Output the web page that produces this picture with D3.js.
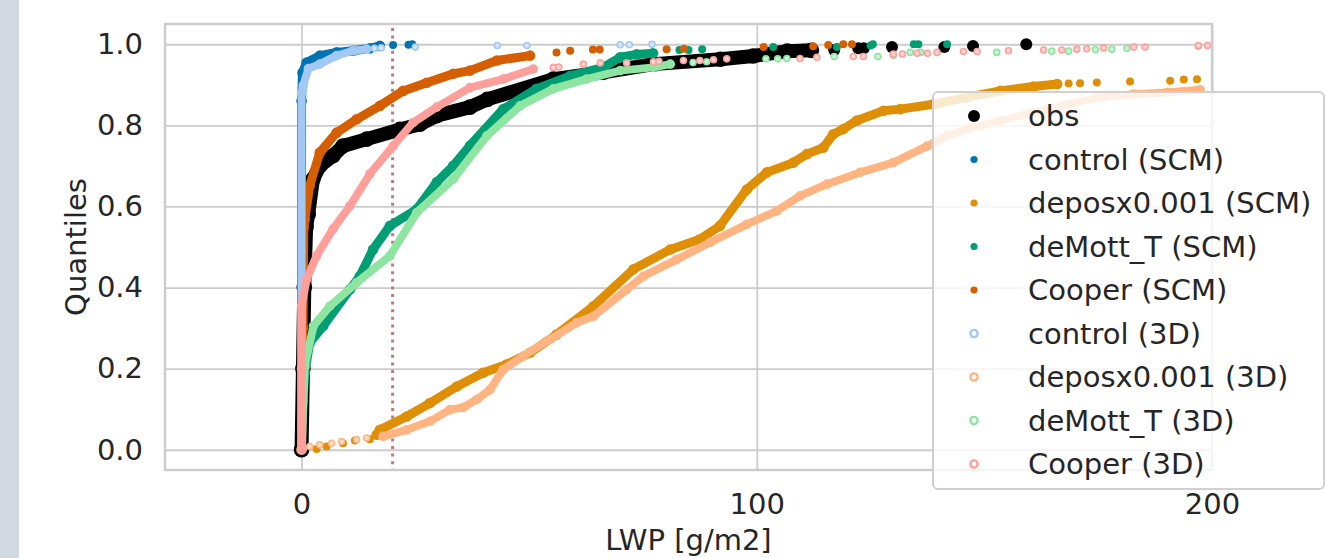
<!DOCTYPE html>
<html>
<head>
<meta charset="utf-8">
<script src="https://cdn.jsdelivr.net/npm/d3@7"></script>
<style>
  body { margin: 0; background: #fff; }
  svg { display: block; font-family: "DejaVu Sans", sans-serif; }
</style>
</head>
<body>
<div id="grafico"></div>
<script>
// DADOS ----------------------------------------------------------------------
// cada par: [LWP em g/m2, quantil]
// "curva" = trecho denso (pontos colados), "cauda" = pontos soltos
const obs_curva = [[0,0],[0.3,0.2],[0.6,0.4],[1,0.55],[1.45,0.58],[2.5,0.667],[4,0.7],[6.9,0.725],[9.1,0.749],[14.3,0.766],[21.6,0.79],[26,0.803],[29.7,0.824],[37,0.845],[40.8,0.864],[55.3,0.914],[66.3,0.931],[77.3,0.951],[92,0.963],[99.2,0.971],[106.7,0.983],[112,0.985]];
const obs_cauda = [[117,0.986],[122.3,0.99],[123.5,0.99],[129.7,0.993],[141.2,0.993],[147.5,0.996],[159.2,1.0]];

const controle_scm_curva = [[0,0],[0,0.86],[0.2,0.93],[1.1,0.955],[4,0.972],[7.7,0.98],[11.3,0.984],[15,0.99],[17.2,0.996]];
const controle_scm_cauda = [[20.1,0.998],[23.5,0.999],[24.3,1.0]];

const depos_scm_curva = [[16.5,0.037],[17.2,0.049],[23.1,0.082],[28.2,0.115],[34.1,0.156],[39.9,0.19],[45,0.21],[50.2,0.239],[56,0.284],[64.1,0.354],[72.9,0.445],[81,0.494],[87.5,0.519],[91.9,0.552],[97.8,0.642],[102.2,0.684],[108,0.708],[111,0.729],[114.6,0.745],[116.8,0.778],[119,0.791],[122,0.812],[127.8,0.836],[131.5,0.84],[138.8,0.852],[146,0.869],[153.5,0.885],[160.8,0.896],[166,0.902]];
const depos_scm_cauda = [[3.3,0.002],[5.5,0.008],[9.1,0.016],[11.7,0.023],[15,0.026],[168.5,0.903],[171,0.904],[174.7,0.906],[182,0.908],[190.8,0.91],[193.8,0.913],[196.7,0.914]];

const demott_scm_curva = [[0,0],[0.3,0.12],[0.7,0.19],[1.8,0.264],[4.75,0.305],[10.6,0.395],[12.8,0.428],[15.7,0.494],[19.4,0.552],[25.3,0.593],[29.7,0.66],[33.3,0.7],[37,0.75],[44.3,0.84],[51.6,0.89],[59,0.922],[66.3,0.943],[70,0.968],[73.6,0.975],[77.2,0.978]];
const demott_scm_cauda = [[83,0.986],[85,0.986],[88,0.988],[103.6,0.993],[117.6,0.993],[125,0.997],[125.5,1.0],[134.5,1.0],[135.5,1.0],[141.8,1.0]];

const cooper_scm_curva = [[0,0],[0.3,0.3],[0.5,0.55],[0.7,0.568],[1.8,0.651],[4,0.733],[7.7,0.782],[12.1,0.815],[17.2,0.848],[22.3,0.885],[27.5,0.905],[33.3,0.927],[37,0.935],[42.9,0.96],[50.2,0.972]];
const cooper_scm_cauda = [[56,0.98],[59,0.984],[64,0.987],[65.5,0.987],[80.2,0.988],[84,0.989],[101.5,0.993],[112.4,0.995],[115.7,0.998],[119,1.0],[120.9,1.0]];

const controle_3d_curva = [[0,0],[0,0.88],[0.35,0.898],[1.5,0.94],[4,0.951],[7.7,0.972],[11.3,0.984],[14.3,0.988]];
const controle_3d_cauda = [[16,0.99],[17.5,0.991],[25,0.993],[43,0.997],[49.5,0.997],[70,0.999],[72,0.999],[77,1.0]];

const depos_3d_curva = [[17.9,0.033],[23.1,0.049],[28.2,0.07],[32.6,0.099],[35.5,0.104],[38.5,0.124],[41.4,0.148],[44.3,0.198],[48.7,0.231],[54.6,0.272],[60.4,0.313],[64.1,0.329],[71.4,0.395],[75.1,0.428],[82.4,0.469],[89.7,0.511],[97.8,0.556],[104.4,0.589],[109.5,0.626],[115.4,0.655],[122.7,0.684],[130,0.708],[137.4,0.749],[141.8,0.774],[146.2,0.791],[153.5,0.811],[160.8,0.832],[168.1,0.852],[175.4,0.869],[182.8,0.877],[190.1,0.881],[197.4,0.888]];
const depos_3d_cauda = [[0.35,0.004],[1.8,0.008],[4,0.012],[6.6,0.016],[8.8,0.02],[12.1,0.025],[14.3,0.029]];

const demott_3d_curva = [[0,0],[0.7,0.206],[2.6,0.305],[6.2,0.354],[12.1,0.412],[19.4,0.478],[25.3,0.585],[33.3,0.667],[40.7,0.774],[48,0.848],[55.3,0.89],[62.6,0.914],[70,0.935],[77.3,0.943],[81,0.951]];
const demott_3d_cauda = [[86,0.955],[89,0.957],[102,0.964],[104.6,0.964],[106.6,0.965],[117,0.97],[126.6,0.97],[130,0.973],[133.7,0.98],[136,0.98],[152.7,0.98],[164.8,0.983],[168.5,0.983],[174.4,0.987],[178,0.988],[181.3,0.99],[197,0.995]];

const cooper_3d_curva = [[0,0],[0,0.2],[0,0.354],[1.1,0.42],[3.3,0.478],[6.9,0.544],[10.6,0.601],[15,0.68],[20.1,0.749],[24.5,0.807],[29.7,0.845],[37,0.893],[44.3,0.914],[50.9,0.939]];
const cooper_3d_cauda = [[55.3,0.943],[56.5,0.944],[61.9,0.951],[65.6,0.954],[71.4,0.954],[77.3,0.957],[78.5,0.958],[83.9,0.96],[87.5,0.96],[90.5,0.962],[93.4,0.964],[109.5,0.965],[113.2,0.968],[121.2,0.97],[123.4,0.97],[130,0.976],[132,0.976],[135.2,0.978],[137.5,0.978],[139.6,0.98],[145.4,0.982],[148.4,0.982],[155.3,0.984],[163,0.986],[167,0.986],[170.3,0.988],[172.5,0.989],[176.2,0.991],[182.8,0.993],[185.3,0.993],[197,0.997],[199,0.997]];

const ticks_x = [0, 100, 200];
const ticks_y = [0, 0.2, 0.4, 0.6, 0.8, 1.0];
const limiar_lwp = 20; // linha pontilhada vertical

// SÉRIES (ordem da legenda = ordem de desenho) -------------------------------
const series = [
  {nome:'obs',                 cor:'#000000', tipo:'obs', curva:obs_curva,          cauda:obs_cauda},
  {nome:'control (SCM)',       cor:'#0173b2', tipo:'scm', curva:controle_scm_curva, cauda:controle_scm_cauda},
  {nome:'deposx0.001 (SCM)',   cor:'#de8f05', tipo:'scm', curva:depos_scm_curva,    cauda:depos_scm_cauda},
  {nome:'deMott_T (SCM)',      cor:'#029e73', tipo:'scm', curva:demott_scm_curva,   cauda:demott_scm_cauda},
  {nome:'Cooper (SCM)',        cor:'#d55e00', tipo:'scm', curva:cooper_scm_curva,   cauda:cooper_scm_cauda},
  {nome:'control (3D)',        cor:'#a1c9f4', tipo:'3d',  curva:controle_3d_curva,  cauda:controle_3d_cauda},
  {nome:'deposx0.001 (3D)',    cor:'#ffb482', tipo:'3d',  curva:depos_3d_curva,     cauda:depos_3d_cauda},
  {nome:'deMott_T (3D)',       cor:'#8de5a1', tipo:'3d',  curva:demott_3d_curva,    cauda:demott_3d_cauda},
  {nome:'Cooper (3D)',         cor:'#ff9f9b', tipo:'3d',  curva:cooper_3d_curva,    cauda:cooper_3d_cauda},
];

// MEDIDAS --------------------------------------------------------------------
const largura = 1327, altura = 558;
const margem = {esquerda:165, direita:1327-1212, superior:24, inferior:558-470};
const cor_texto = '#262626', cor_grade = '#cccccc';
const fonte = 29;

const escala_x = d3.scaleLinear([-30, 200], [margem.esquerda, largura - margem.direita]);
const escala_y = d3.scaleLinear([-0.05, 1.05], [altura - margem.inferior, margem.superior]);

const svg = d3.select('#grafico').append('svg')
    .attr('width', largura)
    .attr('height', altura)
    .attr('viewBox', [0, 0, largura, altura]);

// faixa cinza à esquerda
svg.append('rect').attr('x', 0).attr('y', 0).attr('width', 19).attr('height', altura).attr('fill', '#d2d9e0');

svg.append('defs').append('clipPath').attr('id', 'recorte')
  .append('rect')
    .attr('x', margem.esquerda).attr('y', margem.superior)
    .attr('width', largura - margem.esquerda - margem.direita)
    .attr('height', altura - margem.superior - margem.inferior);

// GRADE ----------------------------------------------------------------------
svg.append('g')
    .attr('transform', `translate(${margem.esquerda},0)`)
    .call(d3.axisLeft(escala_y).tickValues(ticks_y).tickFormat(d3.format('.1f')).tickSize(0).tickPadding(22))
    .call(g => g.select('.domain').remove())
    .call(g => g.selectAll('.tick text').attr('fill', cor_texto).attr('font-size', fonte).attr('font-family', 'DejaVu Sans'))
    .call(g => g.selectAll('.tick line').clone()
        .attr('x2', largura - margem.esquerda - margem.direita)
        .attr('stroke', cor_grade).attr('stroke-width', 1.8));

svg.append('g')
    .attr('transform', `translate(0,${altura - margem.inferior})`)
    .call(d3.axisBottom(escala_x).tickValues(ticks_x).tickFormat(d3.format('d')).tickSize(0).tickPadding(23))
    .call(g => g.select('.domain').remove())
    .call(g => g.selectAll('.tick text').attr('fill', cor_texto).attr('font-size', fonte).attr('font-family', 'DejaVu Sans'))
    .call(g => g.selectAll('.tick line').clone()
        .attr('y2', -(altura - margem.superior - margem.inferior))
        .attr('stroke', cor_grade).attr('stroke-width', 1.8));

// linha pontilhada em LWP = 20
svg.append('line')
    .attr('x1', escala_x(limiar_lwp)).attr('x2', escala_x(limiar_lwp))
    .attr('y1', margem.superior + 4).attr('y2', altura - margem.inferior)
    .attr('stroke', '#c07a7a').attr('stroke-width', 3)
    .attr('stroke-dasharray', '3,4.6');

// PONTOS ---------------------------------------------------------------------
const linha = d3.line().x(d => escala_x(d[0])).y(d => escala_y(d[1]));
const espessura = {obs:14, scm:9, '3d':8};
const raio_cauda = {obs:6, scm:4, '3d':3};

const pontos = svg.append('g').attr('clip-path', 'url(#recorte)');
series.forEach(s => {
  const g = pontos.append('g');
  g.append('path')
      .datum(s.curva)
      .attr('d', linha)
      .attr('fill', 'none')
      .attr('stroke', s.cor)
      .attr('stroke-width', espessura[s.tipo])
      .attr('stroke-linejoin', 'round')
      .attr('stroke-linecap', 'round');
  // pontos da curva, para dar o aspecto granulado
  g.selectAll('circle.curva')
    .data(s.curva)
    .join('circle')
      .attr('class', 'curva')
      .attr('cx', d => escala_x(d[0]))
      .attr('cy', d => escala_y(d[1]))
      .attr('r', espessura[s.tipo] / 2 + 0.8)
      .attr('fill', s.cor);
  const clara = d3.interpolateRgb(s.cor, '#ffffff')(0.55);
  g.selectAll('circle.cauda')
    .data(s.cauda)
    .join('circle')
      .attr('class', 'cauda')
      .attr('cx', d => escala_x(d[0]))
      .attr('cy', d => escala_y(d[1]))
      .attr('r', raio_cauda[s.tipo])
      .attr('fill', s.tipo == '3d' ? clara : s.cor)
      .attr('stroke', s.tipo == '3d' ? s.cor : 'none')
      .attr('stroke-width', 1.6);
});

// BORDAS ---------------------------------------------------------------------
svg.append('rect')
    .attr('x', margem.esquerda).attr('y', margem.superior)
    .attr('width', largura - margem.esquerda - margem.direita)
    .attr('height', altura - margem.superior - margem.inferior)
    .attr('fill', 'none').attr('stroke', cor_grade).attr('stroke-width', 2.4);

// RÓTULOS --------------------------------------------------------------------
svg.append('text')
    .attr('x', (margem.esquerda + largura - margem.direita) / 2)
    .attr('y', 550)
    .attr('text-anchor', 'middle')
    .attr('fill', cor_texto).attr('font-size', fonte)
    .text('LWP [g/m2]');

svg.append('text')
    .attr('transform', `translate(86,${(margem.superior + altura - margem.inferior) / 2}) rotate(-90)`)
    .attr('text-anchor', 'middle')
    .attr('fill', cor_texto).attr('font-size', fonte)
    .text('Quantiles');

// LEGENDA --------------------------------------------------------------------
const legenda = svg.append('g');
legenda.append('rect')
    .attr('x', 933).attr('y', 92).attr('width', 391).attr('height', 397)
    .attr('rx', 5)
    .attr('fill', '#ffffff').attr('fill-opacity', 0.8)
    .attr('stroke', '#d0d0d0').attr('stroke-width', 2);

const itens = legenda.selectAll('g.item')
  .data(series)
  .join('g')
    .attr('class', 'item')
    .attr('transform', (d, i) => `translate(974,${116 + i * 43.5})`);

itens.append('circle')
    .attr('r', d => d.tipo == 'obs' ? 6 : 3.6)
    .attr('fill', d => d.tipo == '3d' ? '#ffffff' : d.cor)
    .attr('stroke', d => d.tipo == '3d' ? d.cor : 'none')
    .attr('stroke-width', 2.4);

itens.append('text')
    .attr('x', 54)
    .attr('dy', '0.35em')
    .attr('fill', cor_texto).attr('font-size', fonte)
    .text(d => d.nome);
</script>
</body>
</html>
